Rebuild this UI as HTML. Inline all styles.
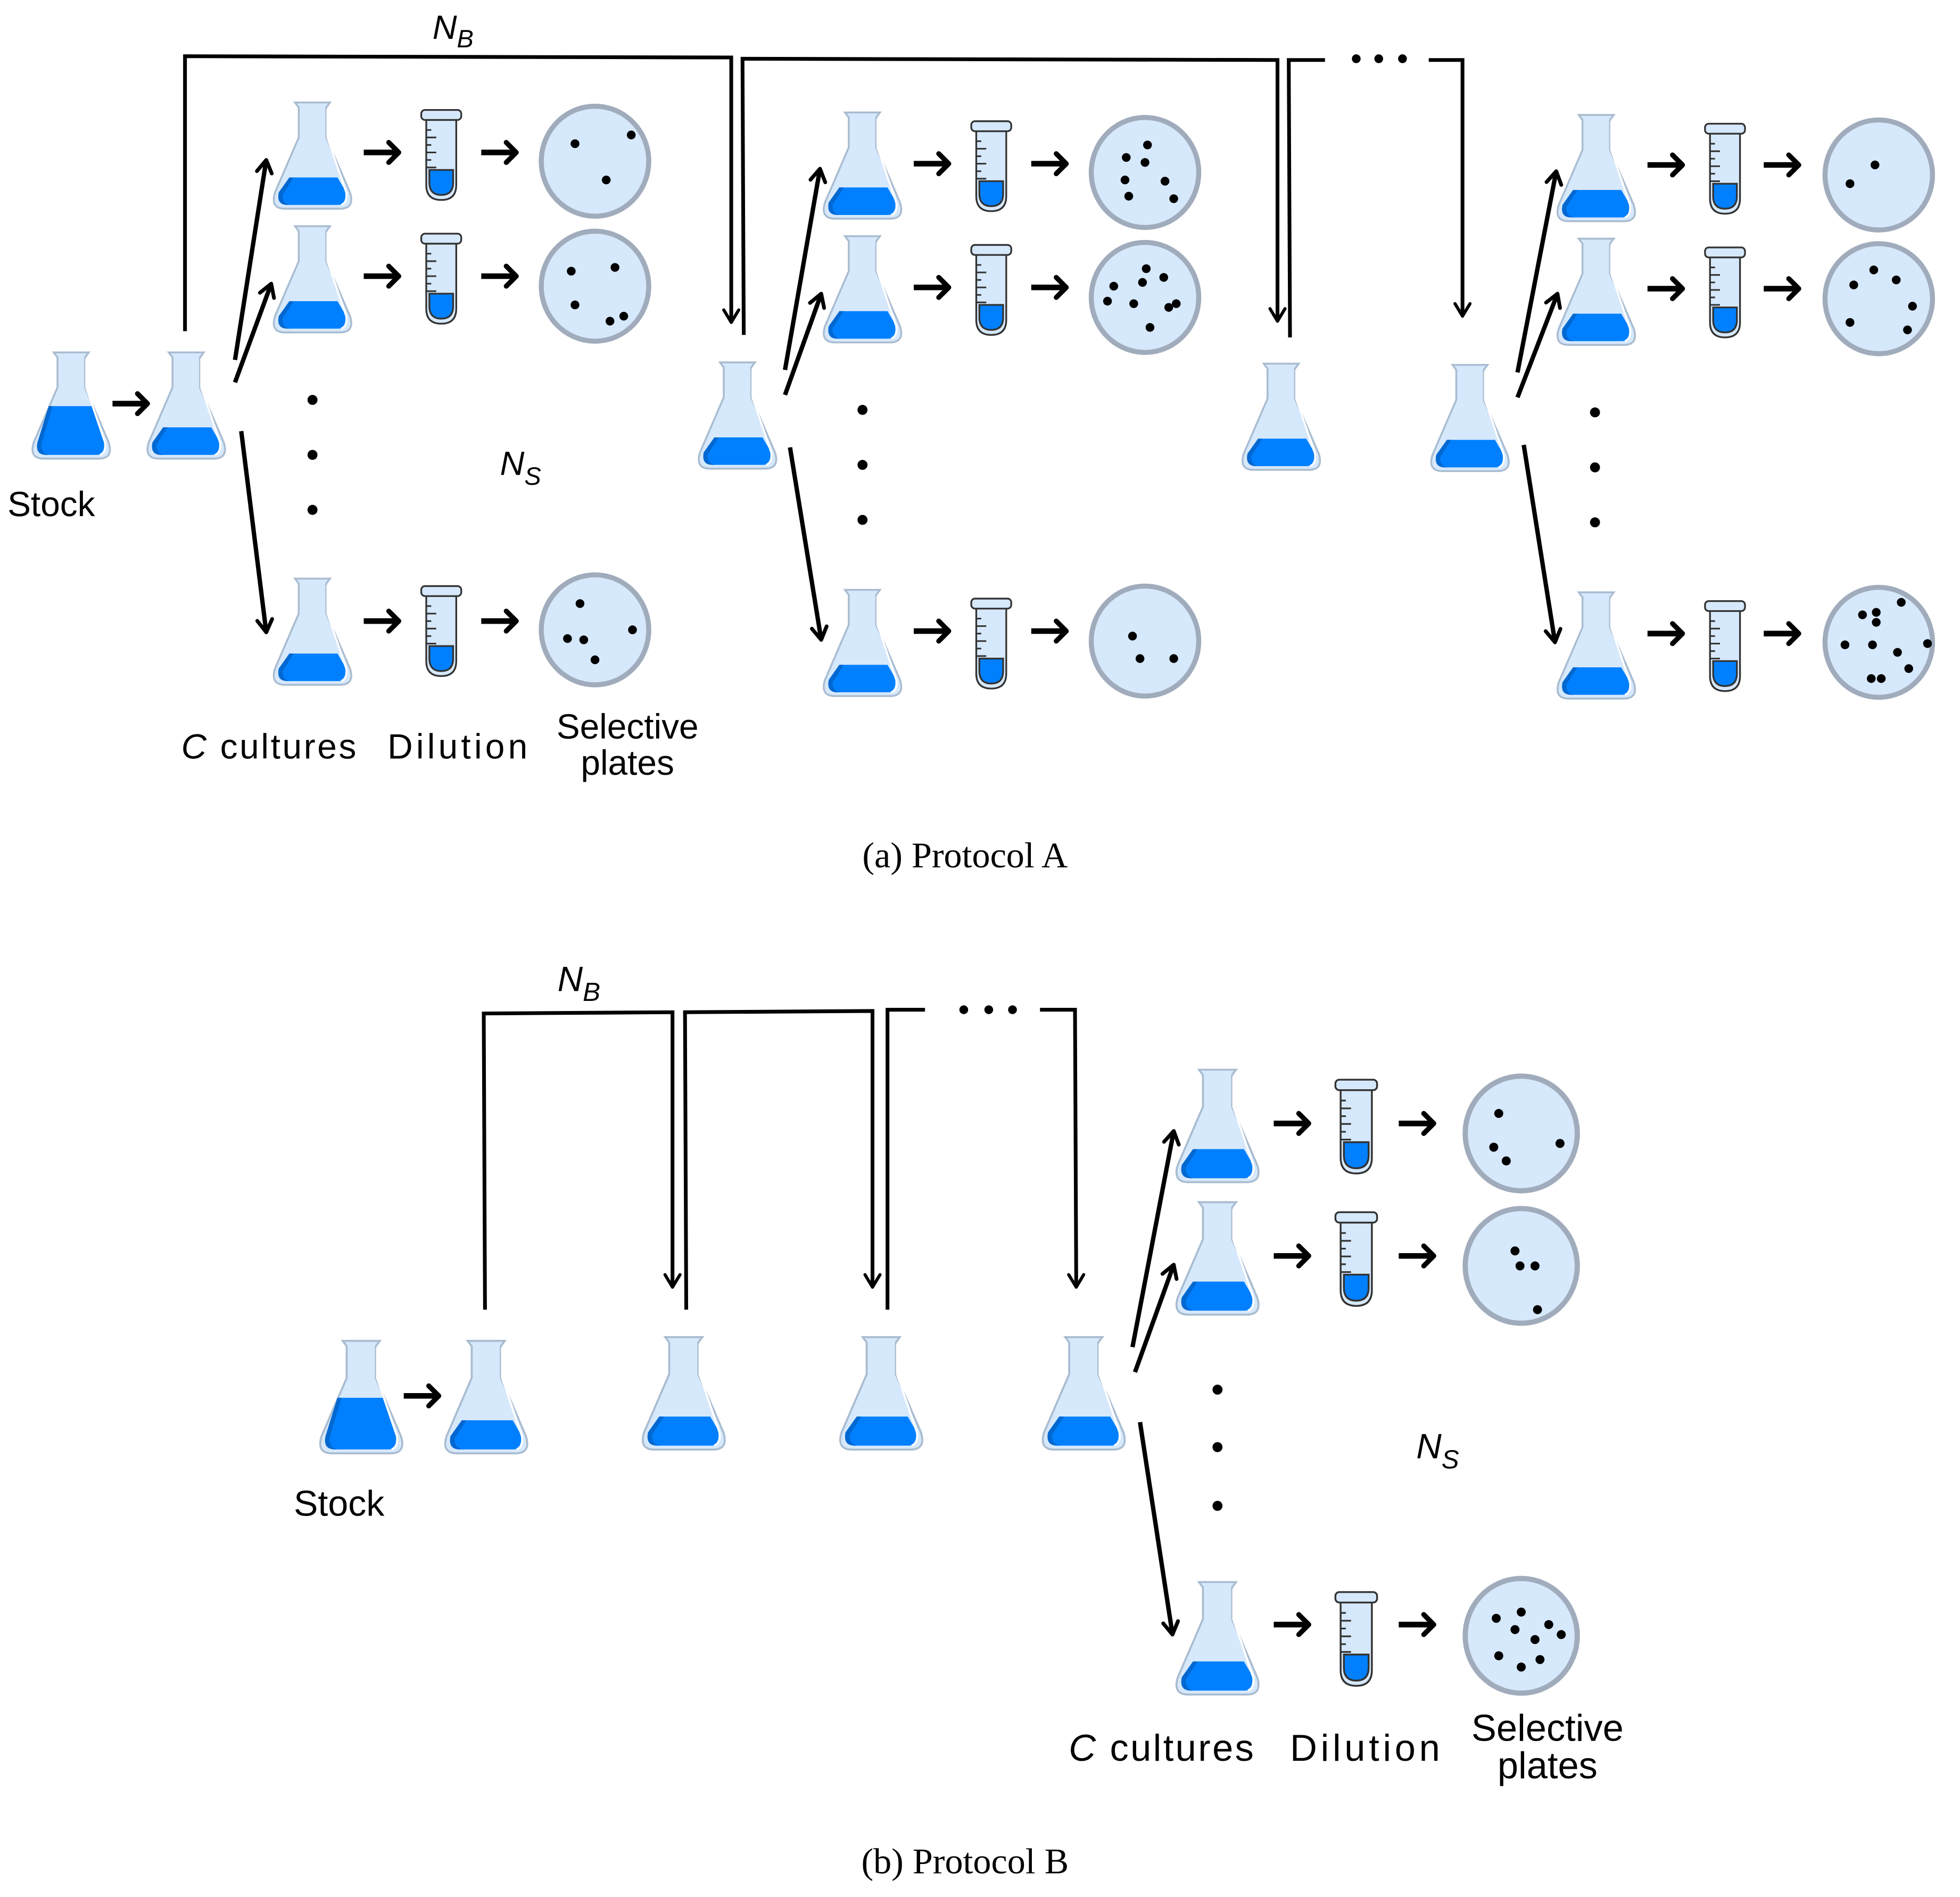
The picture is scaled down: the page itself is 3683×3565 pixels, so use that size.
<!DOCTYPE html>
<html><head><meta charset="utf-8"><style>html,body{margin:0;padding:0;background:#fff}svg{display:block}</style></head>
<body>
<svg width="3683" height="3565" viewBox="0 0 1568 1518" preserveAspectRatio="none" xmlns="http://www.w3.org/2000/svg">
<defs>
<symbol id="flask" viewBox="0 0 64 85" overflow="visible">
<path d="M18,0 L46,0 L43,4 L43,28 L62,72 Q66,85 54,85 L10,85 Q-2,85 2,72 L21,28 L21,4 Z" fill="#d6e8fb" stroke="#a9bcd0" stroke-width="1.5"/>
<path d="M13.5,60 L52,60 L59,72 Q62,82 52,82 L12,82 Q3,82 5,72 Z" fill="#0080ff"/>
<path d="M13.5,60 L17,60 L8,74 Q8,81 14,82 L12,82 Q3,82 5,72 Z" fill="#0068d0"/>
<path d="M44,5 L44,28 L59,72 Q60,80 55,82" fill="none" stroke="#fff" stroke-width="1.6"/>
</symbol>
<symbol id="stock" viewBox="0 0 64 85" overflow="visible">
<path d="M18,0 L46,0 L43,4 L43,28 L62,72 Q66,85 54,85 L10,85 Q-2,85 2,72 L21,28 L21,4 Z" fill="#d6e8fb" stroke="#a9bcd0" stroke-width="1.5"/>
<path d="M14,43 L50,43 L59,72 Q62,82 52,82 L12,82 Q3,82 5,72 Z" fill="#0080ff"/>
<path d="M14,43 L17,43 L8,74 Q8,81 14,82 L12,82 Q3,82 5,72 Z" fill="#0068d0"/>
<path d="M44,5 L44,28 L59,72 Q60,80 55,82" fill="none" stroke="#fff" stroke-width="1.6"/>
</symbol>
<symbol id="tube" viewBox="0 0 32 72" overflow="visible">
<path d="M4,7 L4,60 Q4,72 16,72 Q28,72 28,60 L28,7 Z" fill="#d6e8fb" stroke="#333" stroke-width="1.4"/>
<rect x="0" y="0" width="32" height="8" rx="3" fill="#d6e8fb" stroke="#333" stroke-width="1.4"/>
<path d="M6.5,48 L25.5,48 L25.5,58 Q25.5,68 16,68 Q6.5,68 6.5,58 Z" fill="#0080ff" stroke="#333" stroke-width="1.4"/>
<path d="M4,16 h4 M4,22 h8 M4,28 h4 M4,34 h8 M4,40 h4 M4,46 h8" stroke="#333" stroke-width="1.3"/>
</symbol>
<symbol id="plate" viewBox="-46 -47 92 94" overflow="visible">
<ellipse cx="0" cy="0" rx="43" ry="44" fill="#d6e8fb" stroke="#a0acbc" stroke-width="4"/>
</symbol>
<symbol id="harr" viewBox="0 0 30 20" overflow="visible">
<path d="M0,10 L27,10" stroke="#000" stroke-width="4.5"/>
<path d="M20,2 L28,10 L20,18" fill="none" stroke="#000" stroke-width="4" stroke-linecap="round" stroke-linejoin="round"/>
</symbol>
<marker id="ah" markerUnits="userSpaceOnUse" markerWidth="20" markerHeight="20" refX="12" refY="6" orient="auto" overflow="visible">
<path d="M2,0 L12,6 L2,12" fill="none" stroke="#000" stroke-width="3" stroke-linecap="round" stroke-linejoin="round"/>
</marker>
<marker id="ah2" markerUnits="userSpaceOnUse" markerWidth="20" markerHeight="20" refX="12" refY="6" orient="auto" overflow="visible">
<path d="M2,0 L12,6 L2,12" fill="none" stroke="#000" stroke-width="2.5" stroke-linecap="round" stroke-linejoin="round"/>
</marker>
</defs>
<g font-family="Liberation Sans, sans-serif" fill="#000">

<g fill="none" stroke="#000" stroke-width="3">
<path d="M148,265 L148,45 L585,46 L585,258" marker-end="url(#ah2)"/>
<path d="M595,268 L594,47 L1022,48 L1022,257" marker-end="url(#ah2)"/>
<path d="M1032,270 L1031,48 L1060,48"/>
<path d="M1143,48 L1170,48 L1170,253" marker-end="url(#ah2)"/>
</g>
<circle cx="1085" cy="47" r="3.5"/><circle cx="1103" cy="47" r="3.5"/><circle cx="1122" cy="47" r="3.5"/>
<text x="346" y="31" font-size="27" font-style="italic">N<tspan font-size="20" dy="7">B</tspan></text>

<use href="#stock" x="25" y="282" width="64" height="85"/>
<use href="#harr" x="90" y="313" width="30" height="20"/>
<use href="#flask" x="117" y="282" width="64" height="85"/>
<text x="6" y="413" font-size="28">Stock</text>

<g fill="none" stroke="#000" stroke-width="3.5">
<path d="M188,288 L213,128" marker-end="url(#ah)"/>
<path d="M188,306 L217,227" marker-end="url(#ah)"/>
<path d="M193,345 L213,506" marker-end="url(#ah)"/>
</g>
<circle cx="250" cy="320" r="4"/><circle cx="250" cy="364" r="4"/><circle cx="250" cy="408" r="4"/>
<text x="400" y="380" font-size="27" font-style="italic">N<tspan font-size="20" dy="8">S</tspan></text>

<use href="#flask" x="218" y="82" width="64" height="85"/>
<use href="#harr" x="291" y="112" width="30" height="20"/>
<use href="#tube" x="337" y="88" width="32" height="72"/>
<use href="#harr" x="385" y="112" width="30" height="20"/>
<use href="#plate" x="430" y="82" width="92" height="94"/>
<circle cx="460" cy="115" r="3.5"/><circle cx="505" cy="108" r="3.5"/><circle cx="485" cy="144" r="3.5"/>

<use href="#flask" x="218" y="181" width="64" height="85"/>
<use href="#harr" x="291" y="211" width="30" height="20"/>
<use href="#tube" x="337" y="187" width="32" height="72"/>
<use href="#harr" x="385" y="211" width="30" height="20"/>
<use href="#plate" x="430" y="182" width="92" height="94"/>
<circle cx="457" cy="217" r="3.5"/><circle cx="492" cy="214" r="3.5"/><circle cx="460" cy="244" r="3.5"/><circle cx="488" cy="257" r="3.5"/><circle cx="499" cy="253" r="3.5"/>

<use href="#flask" x="218" y="463" width="64" height="85"/>
<use href="#harr" x="291" y="487" width="30" height="20"/>
<use href="#tube" x="337" y="469" width="32" height="72"/>
<use href="#harr" x="385" y="487" width="30" height="20"/>
<use href="#plate" x="430" y="457" width="92" height="94"/>
<circle cx="464" cy="483" r="3.5"/><circle cx="506" cy="504" r="3.5"/><circle cx="454" cy="511" r="3.5"/><circle cx="467" cy="512" r="3.5"/><circle cx="476" cy="528" r="3.5"/>

<text x="145" y="607" font-size="28" textLength="140"><tspan font-style="italic">C</tspan> cultures</text>
<text x="310" y="607" font-size="28" textLength="112">Dilution</text>
<text x="502" y="591" font-size="28" text-anchor="middle">Selective</text>
<text x="502" y="620" font-size="28" text-anchor="middle">plates</text>

<use href="#flask" x="558" y="290" width="64" height="85"/>
<g fill="none" stroke="#000" stroke-width="3.5">
<path d="M628,296 L656,135" marker-end="url(#ah)"/>
<path d="M628,316 L657,235" marker-end="url(#ah)"/>
<path d="M632,358 L657,512" marker-end="url(#ah)"/>
</g>
<circle cx="690" cy="328" r="4"/><circle cx="690" cy="372" r="4"/><circle cx="690" cy="416" r="4"/>

<use href="#flask" x="658" y="90" width="64" height="85"/>
<use href="#harr" x="731" y="121" width="30" height="20"/>
<use href="#tube" x="777" y="97" width="32" height="72"/>
<use href="#harr" x="825" y="121" width="30" height="20"/>
<use href="#plate" x="870" y="91" width="92" height="94"/>
<circle cx="918" cy="116" r="3.5"/><circle cx="901" cy="126" r="3.5"/><circle cx="916" cy="130" r="3.5"/><circle cx="900" cy="144" r="3.5"/><circle cx="932" cy="145" r="3.5"/><circle cx="903" cy="157" r="3.5"/><circle cx="939" cy="159" r="3.5"/>

<use href="#flask" x="658" y="189" width="64" height="85"/>
<use href="#harr" x="731" y="220" width="30" height="20"/>
<use href="#tube" x="777" y="196" width="32" height="72"/>
<use href="#harr" x="825" y="220" width="30" height="20"/>
<use href="#plate" x="870" y="191" width="92" height="94"/>
<circle cx="917" cy="215" r="3.5"/><circle cx="931" cy="222" r="3.5"/><circle cx="914" cy="226" r="3.5"/><circle cx="891" cy="229" r="3.5"/><circle cx="886" cy="241" r="3.5"/><circle cx="907" cy="243" r="3.5"/><circle cx="935" cy="246" r="3.5"/><circle cx="941" cy="243" r="3.5"/><circle cx="920" cy="262" r="3.5"/>

<use href="#flask" x="658" y="472" width="64" height="85"/>
<use href="#harr" x="731" y="495" width="30" height="20"/>
<use href="#tube" x="777" y="479" width="32" height="72"/>
<use href="#harr" x="825" y="495" width="30" height="20"/>
<use href="#plate" x="870" y="466" width="92" height="94"/>
<circle cx="906" cy="509" r="3.5"/><circle cx="912" cy="527" r="3.5"/><circle cx="939" cy="527" r="3.5"/>

<use href="#flask" x="993" y="291" width="64" height="85"/>
<use href="#flask" x="1144" y="292" width="64" height="85"/>

<g fill="none" stroke="#000" stroke-width="3.5">
<path d="M1214,298 L1245,137" marker-end="url(#ah)"/>
<path d="M1214,318 L1246,235" marker-end="url(#ah)"/>
<path d="M1219,356 L1244,514" marker-end="url(#ah)"/>
</g>
<circle cx="1276" cy="330" r="4"/><circle cx="1276" cy="374" r="4"/><circle cx="1276" cy="418" r="4"/>

<use href="#flask" x="1245" y="92" width="64" height="85"/>
<use href="#harr" x="1318" y="122" width="30" height="20"/>
<use href="#tube" x="1364" y="99" width="32" height="72"/>
<use href="#harr" x="1411" y="122" width="30" height="20"/>
<use href="#plate" x="1457" y="93" width="92" height="94"/>
<circle cx="1500" cy="132" r="3.5"/><circle cx="1480" cy="147" r="3.5"/>

<use href="#flask" x="1245" y="191" width="64" height="85"/>
<use href="#harr" x="1318" y="221" width="30" height="20"/>
<use href="#tube" x="1364" y="198" width="32" height="72"/>
<use href="#harr" x="1411" y="221" width="30" height="20"/>
<use href="#plate" x="1457" y="192" width="92" height="94"/>
<circle cx="1499" cy="216" r="3.5"/><circle cx="1517" cy="224" r="3.5"/><circle cx="1483" cy="228" r="3.5"/><circle cx="1530" cy="245" r="3.5"/><circle cx="1480" cy="258" r="3.5"/><circle cx="1526" cy="264" r="3.5"/>

<use href="#flask" x="1245" y="474" width="64" height="85"/>
<use href="#harr" x="1318" y="497" width="30" height="20"/>
<use href="#tube" x="1364" y="481" width="32" height="72"/>
<use href="#harr" x="1411" y="497" width="30" height="20"/>
<use href="#plate" x="1457" y="467" width="92" height="94"/>
<circle cx="1521" cy="482" r="3.5"/><circle cx="1490" cy="492" r="3.5"/><circle cx="1501" cy="490" r="3.5"/><circle cx="1501" cy="498" r="3.5"/><circle cx="1476" cy="516" r="3.5"/><circle cx="1498" cy="516" r="3.5"/><circle cx="1518" cy="522" r="3.5"/><circle cx="1542" cy="515" r="3.5"/><circle cx="1527" cy="535" r="3.5"/><circle cx="1497" cy="543" r="3.5"/><circle cx="1505" cy="543" r="3.5"/>

<text x="772" y="694" font-size="29" font-family="Liberation Serif, serif" text-anchor="middle">(a) Protocol A</text>

<g fill="none" stroke="#000" stroke-width="3">
<path d="M388,1048 L387,811 L538,810 L538,1030" marker-end="url(#ah2)"/>
<path d="M549,1048 L548,810 L698,809 L698,1030" marker-end="url(#ah2)"/>
<path d="M710,1048 L710,808 L740,808"/>
<path d="M832,808 L860,808 L861,1030" marker-end="url(#ah2)"/>
</g>
<circle cx="771" cy="808" r="3.5"/><circle cx="791" cy="808" r="3.5"/><circle cx="810" cy="808" r="3.5"/>
<text x="446" y="793" font-size="28" font-style="italic">N<tspan font-size="21" dy="8">B</tspan></text>

<use href="#stock" x="255" y="1073" width="68" height="90"/>
<use href="#harr" x="323" y="1107" width="30" height="20"/>
<use href="#flask" x="355" y="1073" width="68" height="90"/>
<text x="235" y="1213" font-size="29">Stock</text>
<use href="#flask" x="513" y="1070" width="68" height="90"/>
<use href="#flask" x="671" y="1070" width="68" height="90"/>
<use href="#flask" x="833" y="1070" width="68" height="90"/>

<g fill="none" stroke="#000" stroke-width="3.5">
<path d="M906,1078 L939,905" marker-end="url(#ah)"/>
<path d="M908,1098 L939,1012" marker-end="url(#ah)"/>
<path d="M912,1138 L938,1308" marker-end="url(#ah)"/>
</g>
<circle cx="974" cy="1112" r="4"/><circle cx="974" cy="1158" r="4"/><circle cx="974" cy="1205" r="4"/>
<text x="1133" y="1167" font-size="28" font-style="italic">N<tspan font-size="21" dy="8">S</tspan></text>

<use href="#flask" x="940" y="856" width="68" height="90"/>
<use href="#harr" x="1018" y="889" width="32" height="20"/>
<use href="#tube" x="1068" y="864" width="34" height="75"/>
<use href="#harr" x="1118" y="889" width="32" height="20"/>
<use href="#plate" x="1169" y="858" width="96" height="98"/>
<circle cx="1199" cy="891" r="3.6"/><circle cx="1195" cy="918" r="3.6"/><circle cx="1205" cy="929" r="3.6"/><circle cx="1248" cy="915" r="3.6"/>

<use href="#flask" x="940" y="962" width="68" height="90"/>
<use href="#harr" x="1018" y="995" width="32" height="20"/>
<use href="#tube" x="1068" y="970" width="34" height="75"/>
<use href="#harr" x="1118" y="995" width="32" height="20"/>
<use href="#plate" x="1169" y="964" width="96" height="98"/>
<circle cx="1212" cy="1001" r="3.6"/><circle cx="1216" cy="1013" r="3.6"/><circle cx="1228" cy="1013" r="3.6"/><circle cx="1230" cy="1048" r="3.6"/>

<use href="#flask" x="940" y="1266" width="68" height="90"/>
<use href="#harr" x="1018" y="1290" width="32" height="20"/>
<use href="#tube" x="1068" y="1274" width="34" height="75"/>
<use href="#harr" x="1118" y="1290" width="32" height="20"/>
<use href="#plate" x="1169" y="1260" width="96" height="98"/>
<circle cx="1197" cy="1295" r="3.6"/><circle cx="1217" cy="1290" r="3.6"/><circle cx="1239" cy="1300" r="3.6"/><circle cx="1249" cy="1308" r="3.6"/><circle cx="1212" cy="1304" r="3.6"/><circle cx="1228" cy="1312" r="3.6"/><circle cx="1199" cy="1325" r="3.6"/><circle cx="1217" cy="1334" r="3.6"/><circle cx="1232" cy="1328" r="3.6"/>

<text x="855" y="1409" font-size="30" textLength="148"><tspan font-style="italic">C</tspan> cultures</text>
<text x="1032" y="1409" font-size="30" textLength="120">Dilution</text>
<text x="1238" y="1393" font-size="30" text-anchor="middle">Selective</text>
<text x="1238" y="1423" font-size="30" text-anchor="middle">plates</text>

<text x="772" y="1499" font-size="29" font-family="Liberation Serif, serif" text-anchor="middle">(b) Protocol B</text>
</g>
</svg>
</body></html>
